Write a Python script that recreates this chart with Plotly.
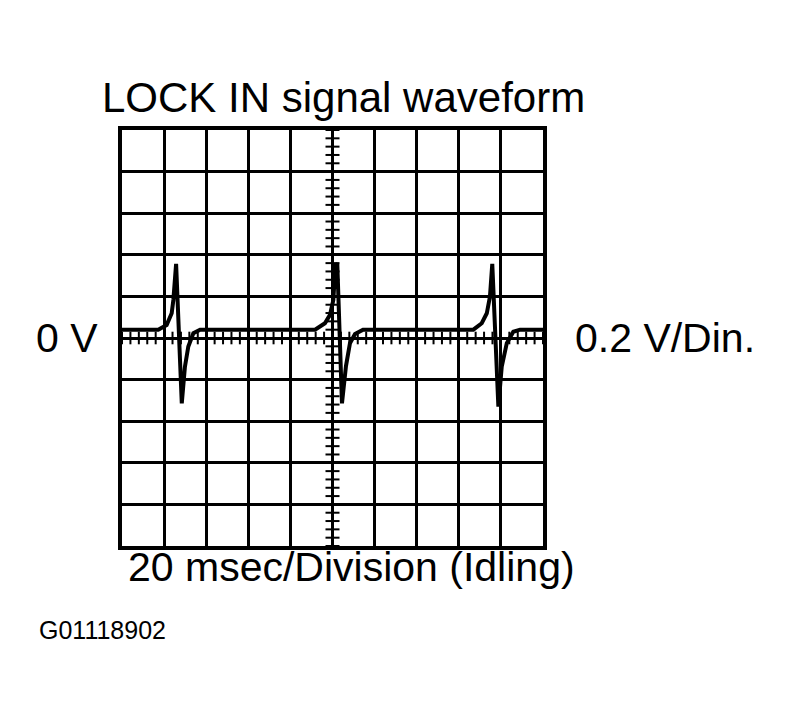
import plotly.graph_objects as go

# --- DATA ---
# time in ms (20 ms per division), voltage in V (0.2 V per division)
TIME_MS = [0, 17.2, 21.2, 23.6, 24.4, 25.7, 28.4, 29.9, 31.5, 33.9, 37.1,
           91.7, 96.4, 98.8, 100.4, 101.4, 102.3, 104.5, 106.4, 108.3, 110.7, 114.5,
           166.9, 170.9, 173.3, 174.8, 175.9, 178.8, 180.4, 182.8, 185.9, 189.1, 200]
VOLTS = [0.04, 0.04, 0.062, 0.119, 0.183, 0.356, -0.314, -0.138, -0.041, 0.023, 0.04,
         0.04, 0.071, 0.111, 0.183, 0.356, 0.35, -0.314, -0.135, -0.025, 0.019, 0.04,
         0.04, 0.071, 0.119, 0.199, 0.356, -0.33, -0.138, -0.025, 0.03, 0.04, 0.04]

TITLE = "LOCK IN signal waveform"
LEFT_LABEL = "0 V"
RIGHT_LABEL = "0.2 V/Din."
BOTTOM_LABEL = "20 msec/Division (Idling)"
FIG_CODE = "G01118902"

FONT = "Liberation Sans, Arial, sans-serif"

fig = go.Figure()

# minor ticks on the centre cross (5 per division)
h_ticks = [i * 4 for i in range(51)]
v_ticks = [round(-1 + i * 0.04, 2) for i in range(51)]
fig.add_trace(go.Scatter(x=h_ticks, y=[0] * len(h_ticks), mode="markers",
                         marker=dict(symbol="line-ns", size=9, line=dict(color="black", width=2)),
                         hoverinfo="skip", showlegend=False))
fig.add_trace(go.Scatter(x=[100] * len(v_ticks), y=v_ticks, mode="markers",
                         marker=dict(symbol="line-ew", size=10, line=dict(color="black", width=2)),
                         hoverinfo="skip", showlegend=False))

# the signal itself
fig.add_trace(go.Scatter(x=TIME_MS, y=VOLTS, mode="lines",
                         line=dict(color="black", width=4),
                         showlegend=False))

fig.update_xaxes(range=[0, 200], dtick=20, showgrid=True, gridcolor="black", gridwidth=2.5,
                 showticklabels=False, ticks="", zeroline=False,
                 showline=True, linecolor="black", linewidth=3.5, mirror=True)
fig.update_yaxes(range=[-1, 1], dtick=0.2, showgrid=True, gridcolor="black", gridwidth=2.5,
                 showticklabels=False, ticks="", zeroline=False,
                 showline=True, linecolor="black", linewidth=3.5, mirror=True)

notes = [
    dict(text=TITLE, x=0.526, y=1.079, xanchor="center", yanchor="middle", size=42),
    dict(text=LEFT_LABEL, x=-0.052, y=0.5, xanchor="right", yanchor="middle", size=41),
    dict(text=RIGHT_LABEL, x=1.071, y=0.5, xanchor="left", yanchor="middle", size=41),
    dict(text=BOTTOM_LABEL, x=0.544, y=-0.05, xanchor="center", yanchor="middle", size=41),
    dict(text=FIG_CODE, x=-0.202, y=-0.202, xanchor="left", yanchor="middle", size=25),
]
for n in notes:
    fig.add_annotation(text=n["text"], x=n["x"], y=n["y"], xref="paper", yref="paper",
                       xanchor=n["xanchor"], yanchor=n["yanchor"], showarrow=False,
                       font=dict(family=FONT, size=n["size"], color="black"))

# page body adds ~8px offset, so margins are trimmed to land the grid where the scope is
fig.update_layout(
    width=789, height=708,
    margin=dict(l=114, r=254, t=122, b=170),
    paper_bgcolor="white", plot_bgcolor="white",
    showlegend=False,
)

fig.write_html("out.html")
